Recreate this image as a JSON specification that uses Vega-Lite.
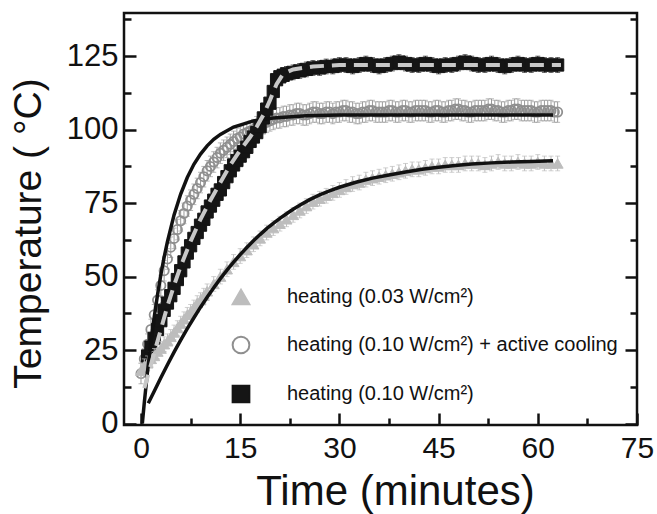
{
  "$schema": "https://vega.github.io/schema/vega-lite/v6.json",
  "width": 513,
  "height": 412,
  "autosize": {"type": "none"},
  "padding": {"left": 124, "top": 13, "right": 20, "bottom": 89},
  "background": "white",
  "config": {
    "view": {"stroke": "#111111", "strokeWidth": 2.5},
    "font": "Liberation Sans",
    "axis": {"grid": false, "domain": false, "labelFont": "Liberation Sans", "titleFont": "Liberation Sans"},
    "legend": {"labelLimit": 0}
  },
  "datasets": {
    "pts": [
      {"s":"circ","t":0,"v":17,"e":3.5},{"s":"circ","t":0.5,"v":22,"e":3.5},{"s":"circ","t":1,"v":27,"e":3.5},{"s":"circ","t":1.5,"v":32,"e":3.5},{"s":"circ","t":2,"v":37,"e":3.5},{"s":"circ","t":2.5,"v":42,"e":3.5},{"s":"circ","t":3,"v":47,"e":3.5},{"s":"circ","t":3.5,"v":52,"e":3.5},{"s":"circ","t":4,"v":56,"e":3.5},{"s":"circ","t":4.5,"v":60,"e":3.5},{"s":"circ","t":5,"v":63,"e":3.5},{"s":"circ","t":5.5,"v":66,"e":3.5},{"s":"circ","t":6,"v":69,"e":3.5},{"s":"circ","t":6.5,"v":71.5,"e":3.5},{"s":"circ","t":7,"v":74,"e":3.5},{"s":"circ","t":7.5,"v":76,"e":3.5},{"s":"circ","t":8,"v":78,"e":3.5},{"s":"circ","t":8.5,"v":80,"e":3.5},{"s":"circ","t":9,"v":82,"e":3.5},{"s":"circ","t":9.5,"v":84,"e":3.5},{"s":"circ","t":10,"v":86,"e":3.5},{"s":"circ","t":10.5,"v":87.5,"e":3.5},{"s":"circ","t":11,"v":89,"e":3.5},{"s":"circ","t":11.5,"v":90.5,"e":3.5},{"s":"circ","t":12,"v":92,"e":3.5},{"s":"circ","t":12.5,"v":93,"e":3.5},{"s":"circ","t":13,"v":94,"e":3.5},{"s":"circ","t":13.5,"v":95,"e":3.5},{"s":"circ","t":14,"v":96,"e":3.5},{"s":"circ","t":14.5,"v":97,"e":3.5},{"s":"circ","t":15,"v":97.5,"e":3.5},{"s":"circ","t":15.5,"v":98.5,"e":3.5},{"s":"circ","t":16,"v":99,"e":3.5},{"s":"circ","t":16.5,"v":99.5,"e":3.5},{"s":"circ","t":17,"v":100,"e":3.5},{"s":"circ","t":17.5,"v":101,"e":3.5},{"s":"circ","t":18,"v":101.5,"e":3.5},{"s":"circ","t":18.5,"v":102,"e":3.5},{"s":"circ","t":19,"v":102.5,"e":3.5},{"s":"circ","t":19.5,"v":103,"e":3.5},{"s":"circ","t":20,"v":103.5,"e":3.5},{"s":"circ","t":20.5,"v":104,"e":3.5},{"s":"circ","t":21,"v":104,"e":3.5},{"s":"circ","t":21.5,"v":104.5,"e":3.5},{"s":"circ","t":22,"v":104.5,"e":3.5},{"s":"circ","t":22.5,"v":105,"e":3.5},{"s":"circ","t":23,"v":105,"e":3.5},{"s":"circ","t":23.5,"v":105.5,"e":3.5},{"s":"circ","t":24,"v":105.5,"e":3.5},{"s":"circ","t":24.5,"v":105,"e":3.5},{"s":"circ","t":25,"v":105,"e":3.5},{"s":"circ","t":25.5,"v":105.5,"e":3.5},{"s":"circ","t":26,"v":106,"e":3.5},{"s":"circ","t":26.5,"v":106,"e":3.5},{"s":"circ","t":27,"v":105.5,"e":3.5},{"s":"circ","t":27.5,"v":105.5,"e":3.5},{"s":"circ","t":28,"v":106,"e":3.5},{"s":"circ","t":28.5,"v":106,"e":3.5},{"s":"circ","t":29,"v":105.5,"e":3.5},{"s":"circ","t":29.5,"v":106,"e":3.5},{"s":"circ","t":30,"v":106,"e":3.5},{"s":"circ","t":30.5,"v":106.5,"e":3.5},{"s":"circ","t":31,"v":106.5,"e":3.5},{"s":"circ","t":31.5,"v":106,"e":3.5},{"s":"circ","t":32,"v":106,"e":3.5},{"s":"circ","t":32.5,"v":105.5,"e":3.5},{"s":"circ","t":33,"v":105.5,"e":3.5},{"s":"circ","t":33.5,"v":106,"e":3.5},{"s":"circ","t":34,"v":106,"e":3.5},{"s":"circ","t":34.5,"v":106.5,"e":3.5},{"s":"circ","t":35,"v":106.5,"e":3.5},{"s":"circ","t":35.5,"v":106,"e":3.5},{"s":"circ","t":36,"v":106,"e":3.5},{"s":"circ","t":36.5,"v":106,"e":3.5},{"s":"circ","t":37,"v":106,"e":3.5},{"s":"circ","t":37.5,"v":106.5,"e":3.5},{"s":"circ","t":38,"v":106.5,"e":3.5},{"s":"circ","t":38.5,"v":106,"e":3.5},{"s":"circ","t":39,"v":106,"e":3.5},{"s":"circ","t":39.5,"v":106.5,"e":3.5},{"s":"circ","t":40,"v":106.5,"e":3.5},{"s":"circ","t":40.5,"v":106,"e":3.5},{"s":"circ","t":41,"v":106,"e":3.5},{"s":"circ","t":41.5,"v":106.5,"e":3.5},{"s":"circ","t":42,"v":106.5,"e":3.5},{"s":"circ","t":42.5,"v":106.5,"e":3.5},{"s":"circ","t":43,"v":106.5,"e":3.5},{"s":"circ","t":43.5,"v":106,"e":3.5},{"s":"circ","t":44,"v":106,"e":3.5},{"s":"circ","t":44.5,"v":106.5,"e":3.5},{"s":"circ","t":45,"v":106.5,"e":3.5},{"s":"circ","t":45.5,"v":106,"e":3.5},{"s":"circ","t":46,"v":106,"e":3.5},{"s":"circ","t":46.5,"v":106.5,"e":3.5},{"s":"circ","t":47,"v":106.5,"e":3.5},{"s":"circ","t":47.5,"v":107,"e":3.5},{"s":"circ","t":48,"v":107,"e":3.5},{"s":"circ","t":48.5,"v":106.5,"e":3.5},{"s":"circ","t":49,"v":106.5,"e":3.5},{"s":"circ","t":49.5,"v":106,"e":3.5},{"s":"circ","t":50,"v":106,"e":3.5},{"s":"circ","t":50.5,"v":106.5,"e":3.5},{"s":"circ","t":51,"v":106.5,"e":3.5},{"s":"circ","t":51.5,"v":106.5,"e":3.5},{"s":"circ","t":52,"v":106.5,"e":3.5},{"s":"circ","t":52.5,"v":107,"e":3.5},{"s":"circ","t":53,"v":107,"e":3.5},{"s":"circ","t":53.5,"v":106.5,"e":3.5},{"s":"circ","t":54,"v":106.5,"e":3.5},{"s":"circ","t":54.5,"v":106,"e":3.5},{"s":"circ","t":55,"v":106,"e":3.5},{"s":"circ","t":55.5,"v":106.5,"e":3.5},{"s":"circ","t":56,"v":106.5,"e":3.5},{"s":"circ","t":56.5,"v":107,"e":3.5},{"s":"circ","t":57,"v":107,"e":3.5},{"s":"circ","t":57.5,"v":106.5,"e":3.5},{"s":"circ","t":58,"v":106.5,"e":3.5},{"s":"circ","t":58.5,"v":106.5,"e":3.5},{"s":"circ","t":59,"v":106.5,"e":3.5},{"s":"circ","t":59.5,"v":106,"e":3.5},{"s":"circ","t":60,"v":106,"e":3.5},{"s":"circ","t":60.5,"v":106.5,"e":3.5},{"s":"circ","t":61,"v":106.5,"e":3.5},{"s":"circ","t":61.5,"v":106.5,"e":3.5},{"s":"circ","t":62,"v":106.5,"e":3.5},{"s":"circ","t":62.5,"v":106,"e":3.5},{"s":"circ","t":63,"v":106,"e":3.5},
      {"s":"sq","t":1,"v":23,"e":2.5},{"s":"sq","t":1.5,"v":26,"e":2.5},{"s":"sq","t":2,"v":29,"e":2.5},{"s":"sq","t":2.5,"v":32,"e":2.5},{"s":"sq","t":3,"v":35,"e":2.5},{"s":"sq","t":3.5,"v":38.5,"e":2.5},{"s":"sq","t":4,"v":41,"e":2.5},{"s":"sq","t":4.5,"v":43.5,"e":2.5},{"s":"sq","t":5,"v":46,"e":2.5},{"s":"sq","t":5.5,"v":49,"e":2.5},{"s":"sq","t":6,"v":52,"e":2.5},{"s":"sq","t":6.5,"v":55,"e":2.5},{"s":"sq","t":7,"v":58,"e":2.5},{"s":"sq","t":7.5,"v":60.5,"e":2.5},{"s":"sq","t":8,"v":63,"e":2.5},{"s":"sq","t":8.5,"v":65,"e":2.5},{"s":"sq","t":9,"v":67.5,"e":2.5},{"s":"sq","t":9.5,"v":69.5,"e":2.5},{"s":"sq","t":10,"v":72,"e":2.5},{"s":"sq","t":10.5,"v":74,"e":2.5},{"s":"sq","t":11,"v":76,"e":2.5},{"s":"sq","t":11.5,"v":78,"e":2.5},{"s":"sq","t":12,"v":79.5,"e":2.5},{"s":"sq","t":12.5,"v":82,"e":2.5},{"s":"sq","t":13,"v":84,"e":2.5},{"s":"sq","t":13.5,"v":86,"e":2.5},{"s":"sq","t":14,"v":88,"e":2.5},{"s":"sq","t":14.5,"v":89.5,"e":2.5},{"s":"sq","t":15,"v":91,"e":2.5},{"s":"sq","t":15.5,"v":92.5,"e":2.5},{"s":"sq","t":16,"v":94,"e":2.5},{"s":"sq","t":16.5,"v":96,"e":2.5},{"s":"sq","t":17,"v":97.5,"e":2.5},{"s":"sq","t":17.5,"v":99,"e":2.5},{"s":"sq","t":18,"v":101,"e":2.5},{"s":"sq","t":18.5,"v":104,"e":2.5},{"s":"sq","t":19,"v":107,"e":2.5},{"s":"sq","t":19.5,"v":109,"e":2.5},{"s":"sq","t":20,"v":113,"e":2.5},{"s":"sq","t":20.5,"v":117,"e":2.5},{"s":"sq","t":21,"v":118,"e":2.5},{"s":"sq","t":21.5,"v":118.5,"e":2.5},{"s":"sq","t":22,"v":119,"e":2.5},{"s":"sq","t":23,"v":119.5,"e":2.5},{"s":"sq","t":24,"v":120,"e":2.5},{"s":"sq","t":25,"v":120.5,"e":2.5},{"s":"sq","t":26,"v":121,"e":2.5},{"s":"sq","t":27,"v":121,"e":2.5},{"s":"sq","t":28,"v":121.5,"e":2.5},{"s":"sq","t":29,"v":121.5,"e":2.5},{"s":"sq","t":30,"v":122,"e":2.5},{"s":"sq","t":31,"v":122,"e":2.5},{"s":"sq","t":32,"v":121.5,"e":2.5},{"s":"sq","t":33,"v":122,"e":2.5},{"s":"sq","t":34,"v":122.5,"e":2.5},{"s":"sq","t":35,"v":122,"e":2.5},{"s":"sq","t":36,"v":121.5,"e":2.5},{"s":"sq","t":37,"v":122,"e":2.5},{"s":"sq","t":38,"v":122.5,"e":2.5},{"s":"sq","t":39,"v":123,"e":2.5},{"s":"sq","t":40,"v":122.5,"e":2.5},{"s":"sq","t":41,"v":122,"e":2.5},{"s":"sq","t":42,"v":122,"e":2.5},{"s":"sq","t":43,"v":122.5,"e":2.5},{"s":"sq","t":44,"v":122,"e":2.5},{"s":"sq","t":45,"v":121.5,"e":2.5},{"s":"sq","t":46,"v":122,"e":2.5},{"s":"sq","t":47,"v":122,"e":2.5},{"s":"sq","t":48,"v":122.5,"e":2.5},{"s":"sq","t":49,"v":123,"e":2.5},{"s":"sq","t":50,"v":122.5,"e":2.5},{"s":"sq","t":51,"v":122,"e":2.5},{"s":"sq","t":52,"v":122,"e":2.5},{"s":"sq","t":53,"v":122.5,"e":2.5},{"s":"sq","t":54,"v":122,"e":2.5},{"s":"sq","t":55,"v":121.5,"e":2.5},{"s":"sq","t":56,"v":122,"e":2.5},{"s":"sq","t":57,"v":122.5,"e":2.5},{"s":"sq","t":58,"v":122,"e":2.5},{"s":"sq","t":59,"v":122,"e":2.5},{"s":"sq","t":60,"v":122.5,"e":2.5},{"s":"sq","t":61,"v":122,"e":2.5},{"s":"sq","t":62,"v":122,"e":2.5},{"s":"sq","t":63,"v":122,"e":2.5},
      {"s":"tri","t":0,"v":18,"e":2.5},{"s":"tri","t":0.5,"v":19.5,"e":2.5},{"s":"tri","t":1,"v":20.5,"e":2.5},{"s":"tri","t":1.5,"v":22,"e":2.5},{"s":"tri","t":2,"v":23,"e":2.5},{"s":"tri","t":2.5,"v":24.5,"e":2.5},{"s":"tri","t":3,"v":25.5,"e":2.5},{"s":"tri","t":3.5,"v":27,"e":2.5},{"s":"tri","t":4,"v":28,"e":2.5},{"s":"tri","t":4.5,"v":29.5,"e":2.5},{"s":"tri","t":5,"v":31,"e":2.5},{"s":"tri","t":5.5,"v":32.5,"e":2.5},{"s":"tri","t":6,"v":34,"e":2.5},{"s":"tri","t":6.5,"v":35.5,"e":2.5},{"s":"tri","t":7,"v":37,"e":2.5},{"s":"tri","t":7.5,"v":38,"e":2.5},{"s":"tri","t":8,"v":39.5,"e":2.5},{"s":"tri","t":8.5,"v":41,"e":2.5},{"s":"tri","t":9,"v":42,"e":2.5},{"s":"tri","t":9.5,"v":43.5,"e":2.5},{"s":"tri","t":10,"v":45,"e":2.5},{"s":"tri","t":11,"v":47.5,"e":2.5},{"s":"tri","t":12,"v":50,"e":2.5},{"s":"tri","t":13,"v":52.5,"e":2.5},{"s":"tri","t":14,"v":55,"e":2.5},{"s":"tri","t":15,"v":57,"e":2.5},{"s":"tri","t":16,"v":59,"e":2.5},{"s":"tri","t":17,"v":61,"e":2.5},{"s":"tri","t":18,"v":63,"e":2.5},{"s":"tri","t":19,"v":65,"e":2.5},{"s":"tri","t":20,"v":66.5,"e":2.5},{"s":"tri","t":21,"v":68,"e":2.5},{"s":"tri","t":22,"v":69.5,"e":2.5},{"s":"tri","t":23,"v":71,"e":2.5},{"s":"tri","t":24,"v":72.5,"e":2.5},{"s":"tri","t":25,"v":74,"e":2.5},{"s":"tri","t":26,"v":75.5,"e":2.5},{"s":"tri","t":27,"v":76.5,"e":2.5},{"s":"tri","t":28,"v":77.5,"e":2.5},{"s":"tri","t":29,"v":78.5,"e":2.5},{"s":"tri","t":30,"v":79.5,"e":2.5},{"s":"tri","t":31,"v":80.5,"e":2.5},{"s":"tri","t":32,"v":81.5,"e":2.5},{"s":"tri","t":33,"v":82,"e":2.5},{"s":"tri","t":34,"v":83,"e":2.5},{"s":"tri","t":35,"v":83.5,"e":2.5},{"s":"tri","t":36,"v":84,"e":2.5},{"s":"tri","t":37,"v":84.5,"e":2.5},{"s":"tri","t":38,"v":85,"e":2.5},{"s":"tri","t":39,"v":85.5,"e":2.5},{"s":"tri","t":40,"v":86,"e":2.5},{"s":"tri","t":41,"v":86.5,"e":2.5},{"s":"tri","t":42,"v":86.5,"e":2.5},{"s":"tri","t":43,"v":87,"e":2.5},{"s":"tri","t":44,"v":87.5,"e":2.5},{"s":"tri","t":45,"v":87.5,"e":2.5},{"s":"tri","t":46,"v":88,"e":2.5},{"s":"tri","t":47,"v":88,"e":2.5},{"s":"tri","t":48,"v":88,"e":2.5},{"s":"tri","t":49,"v":88.5,"e":2.5},{"s":"tri","t":50,"v":88.5,"e":2.5},{"s":"tri","t":51,"v":88.5,"e":2.5},{"s":"tri","t":52,"v":88,"e":2.5},{"s":"tri","t":53,"v":88.5,"e":2.5},{"s":"tri","t":54,"v":89,"e":2.5},{"s":"tri","t":55,"v":88.5,"e":2.5},{"s":"tri","t":56,"v":88.5,"e":2.5},{"s":"tri","t":57,"v":89,"e":2.5},{"s":"tri","t":58,"v":88.5,"e":2.5},{"s":"tri","t":59,"v":88.5,"e":2.5},{"s":"tri","t":60,"v":89,"e":2.5},{"s":"tri","t":61,"v":88.5,"e":2.5},{"s":"tri","t":62,"v":88.5,"e":2.5},{"s":"tri","t":63,"v":88.5,"e":2.5}
    ],
    "fit": [
      {"s":"circ","t":0.2,"v":0},{"s":"circ","t":0.5,"v":7.1},{"s":"circ","t":1,"v":18},{"s":"circ","t":1.5,"v":27.6},{"s":"circ","t":2,"v":36.2},{"s":"circ","t":2.5,"v":43.8},{"s":"circ","t":3,"v":50.6},{"s":"circ","t":3.5,"v":56.6},{"s":"circ","t":4,"v":61.9},{"s":"circ","t":5,"v":71},{"s":"circ","t":6,"v":78.1},{"s":"circ","t":7,"v":83.7},{"s":"circ","t":8,"v":88.2},{"s":"circ","t":9,"v":91.7},{"s":"circ","t":10,"v":94.5},{"s":"circ","t":11,"v":96.7},{"s":"circ","t":12,"v":98.4},{"s":"circ","t":14,"v":100.9},{"s":"circ","t":17,"v":103},{"s":"circ","t":20,"v":104},{"s":"circ","t":25,"v":104.7},{"s":"circ","t":30,"v":105},{"s":"circ","t":62.3,"v":105},
      {"s":"tri","t":1.1,"v":6.9},{"s":"tri","t":2,"v":11},{"s":"tri","t":3,"v":15.6},{"s":"tri","t":4,"v":20},{"s":"tri","t":5,"v":24.3},{"s":"tri","t":6,"v":28.4},{"s":"tri","t":7,"v":32.3},{"s":"tri","t":8,"v":36},{"s":"tri","t":9,"v":39.6},{"s":"tri","t":10,"v":43},{"s":"tri","t":11,"v":46.2},{"s":"tri","t":12,"v":49.3},{"s":"tri","t":13,"v":52.2},{"s":"tri","t":14,"v":54.9},{"s":"tri","t":15,"v":57.5},{"s":"tri","t":16,"v":59.9},{"s":"tri","t":17,"v":62.2},{"s":"tri","t":18,"v":64.3},{"s":"tri","t":19,"v":66.3},{"s":"tri","t":20,"v":68.1},{"s":"tri","t":21,"v":69.8},{"s":"tri","t":22,"v":71.4},{"s":"tri","t":23,"v":72.9},{"s":"tri","t":24,"v":74.3},{"s":"tri","t":25.5,"v":76.2},{"s":"tri","t":27,"v":77.8},{"s":"tri","t":28.5,"v":79.2},{"s":"tri","t":30,"v":80.4},{"s":"tri","t":32.5,"v":82.1},{"s":"tri","t":35,"v":83.5},{"s":"tri","t":37.5,"v":84.6},{"s":"tri","t":40,"v":85.6},{"s":"tri","t":42.5,"v":86.5},{"s":"tri","t":45,"v":87.2},{"s":"tri","t":47.5,"v":87.8},{"s":"tri","t":50,"v":88.3},{"s":"tri","t":53,"v":88.7},{"s":"tri","t":56,"v":89},{"s":"tri","t":59,"v":89.2},{"s":"tri","t":62.3,"v":89.4},
      {"s":"sq","t":0.5,"v":12},{"s":"sq","t":1,"v":16},{"s":"sq","t":2,"v":24},{"s":"sq","t":3,"v":32},{"s":"sq","t":4,"v":40},{"s":"sq","t":5,"v":47},{"s":"sq","t":6,"v":53.5},{"s":"sq","t":7.5,"v":62},{"s":"sq","t":9,"v":69.5},{"s":"sq","t":10.5,"v":76},{"s":"sq","t":12,"v":82},{"s":"sq","t":13.5,"v":88},{"s":"sq","t":15,"v":93},{"s":"sq","t":16.5,"v":97.5},{"s":"sq","t":17.5,"v":101},{"s":"sq","t":18.5,"v":105},{"s":"sq","t":19.5,"v":110},{"s":"sq","t":20.5,"v":115.5},{"s":"sq","t":21.5,"v":119},{"s":"sq","t":23,"v":120.5},{"s":"sq","t":26,"v":121.5},{"s":"sq","t":30,"v":122},{"s":"sq","t":63.5,"v":122}
    ]
  },
  "resolve": {"axis": {"x": "independent", "y": "independent"}},
  "layer": [
    {
      "data": {"name": "pts"},
      "transform": [{"filter": "datum.s == 'circ'"}],
      "mark": {"type": "errorbar", "ticks": true, "color": "#9a9a9a"},
      "encoding": {
        "x": {"field": "t", "type": "quantitative", "scale": {"domain": [-2.57, 75], "nice": false, "zero": false}, "axis": null},
        "y": {"field": "v", "type": "quantitative", "scale": {"domain": [-0.5, 139.7], "nice": false, "zero": false}, "axis": null},
        "yError": {"field": "e"}
      }
    },
    {
      "data": {"name": "pts"},
      "transform": [{"filter": "datum.s == 'circ'"}],
      "mark": {"type": "point", "size": 85, "strokeWidth": 1.8, "opacity": 1},
      "encoding": {
        "x": {"field": "t", "type": "quantitative", "scale": {"domain": [-2.57, 75], "nice": false, "zero": false},
          "axis": {"orient": "bottom", "values": [0, 15, 30, 45, 60, 75], "ticks": false, "labelFontSize": 30, "labelPadding": 8, "labelColor": "#111111", "labelFlush": false, "title": "Time (minutes)", "titleFontSize": 42, "titleFontWeight": "normal", "titleColor": "#111111", "titleX": 271, "titleY": 79, "titleBaseline": "alphabetic"}},
        "y": {"field": "v", "type": "quantitative", "scale": {"domain": [-0.5, 139.7], "nice": false, "zero": false},
          "axis": {"orient": "left", "values": [0, 25, 50, 75, 100, 125], "ticks": false, "labelFontSize": 31, "labelPadding": 6, "labelColor": "#111111", "labelFlush": false, "title": "Temperature ( °C)", "titleFontSize": 39, "titleFontWeight": "normal", "titleColor": "#111111", "titleX": -84, "titleY": 220, "titleAngle": -90, "titleBaseline": "alphabetic"}},
        "shape": {"field": "s", "type": "nominal", "scale": {"domain": ["tri", "circ", "sq"], "range": ["triangle-up", "circle", "square"]},
          "legend": {"title": null, "orient": "none", "legendX": 107, "legendY": 274, "symbolSize": 280, "symbolStrokeWidth": 2, "labelFontSize": 20, "labelColor": "#111111", "labelOffset": 36, "rowPadding": 23, "labelLimit": 0,
            "labelExpr": "datum.label == 'tri' ? 'heating (0.03 W/cm²)' : datum.label == 'circ' ? 'heating (0.10 W/cm²) + active cooling' : 'heating (0.10 W/cm²)'"}},
        "fill": {"field": "s", "type": "nominal", "scale": {"domain": ["tri", "circ", "sq"], "range": ["#bdbdbd", "transparent", "#151515"]},
          "legend": {"title": null, "orient": "none", "legendX": 107, "legendY": 274, "symbolSize": 280, "symbolStrokeWidth": 2, "labelFontSize": 20, "labelColor": "#111111", "labelOffset": 36, "rowPadding": 23, "labelLimit": 0,
            "labelExpr": "datum.label == 'tri' ? 'heating (0.03 W/cm²)' : datum.label == 'circ' ? 'heating (0.10 W/cm²) + active cooling' : 'heating (0.10 W/cm²)'"}},
        "stroke": {"field": "s", "type": "nominal", "scale": {"domain": ["tri", "circ", "sq"], "range": ["#bdbdbd", "#8f8f8f", "#151515"]},
          "legend": {"title": null, "orient": "none", "legendX": 107, "legendY": 274, "symbolSize": 280, "symbolStrokeWidth": 2, "labelFontSize": 20, "labelColor": "#111111", "labelOffset": 36, "rowPadding": 23, "labelLimit": 0,
            "labelExpr": "datum.label == 'tri' ? 'heating (0.03 W/cm²)' : datum.label == 'circ' ? 'heating (0.10 W/cm²) + active cooling' : 'heating (0.10 W/cm²)'"}}
      }
    },
    {
      "data": {"name": "pts"},
      "transform": [{"filter": "datum.s == 'sq'"}],
      "mark": {"type": "errorbar", "ticks": true, "color": "#151515"},
      "encoding": {
        "x": {"field": "t", "type": "quantitative", "scale": {"domain": [-2.57, 75], "nice": false, "zero": false}, "axis": null},
        "y": {"field": "v", "type": "quantitative", "scale": {"domain": [-0.5, 139.7], "nice": false, "zero": false}, "axis": null},
        "yError": {"field": "e"}
      }
    },
    {
      "data": {"name": "pts"},
      "transform": [{"filter": "datum.s == 'sq'"}],
      "mark": {"type": "point", "size": 150, "strokeWidth": 1, "opacity": 1},
      "encoding": {
        "x": {"field": "t", "type": "quantitative", "scale": {"domain": [-2.57, 75], "nice": false, "zero": false},
          "axis": {"orient": "bottom", "values": [0, 15, 30, 45, 60, 75], "labels": false, "ticks": true, "tickSize": -12, "tickWidth": 2.5, "tickColor": "#111111", "title": null, "zindex": 2}},
        "y": {"field": "v", "type": "quantitative", "scale": {"domain": [-0.5, 139.7], "nice": false, "zero": false},
          "axis": {"orient": "left", "values": [0, 25, 50, 75, 100, 125], "labels": false, "ticks": true, "tickSize": -12, "tickWidth": 2.5, "tickColor": "#111111", "title": null, "zindex": 2}},
        "shape": {"field": "s", "type": "nominal", "scale": {"domain": ["tri", "circ", "sq"], "range": ["triangle-up", "circle", "square"]}},
        "fill": {"field": "s", "type": "nominal", "scale": {"domain": ["tri", "circ", "sq"], "range": ["#bdbdbd", "transparent", "#151515"]}},
        "stroke": {"field": "s", "type": "nominal", "scale": {"domain": ["tri", "circ", "sq"], "range": ["#bdbdbd", "#8f8f8f", "#151515"]}}
      }
    },
    {
      "data": {"name": "pts"},
      "transform": [{"filter": "datum.s == 'tri'"}],
      "mark": {"type": "errorbar", "ticks": true, "color": "#bdbdbd"},
      "encoding": {
        "x": {"field": "t", "type": "quantitative", "scale": {"domain": [-2.57, 75], "nice": false, "zero": false}, "axis": null},
        "y": {"field": "v", "type": "quantitative", "scale": {"domain": [-0.5, 139.7], "nice": false, "zero": false}, "axis": null},
        "yError": {"field": "e"}
      }
    },
    {
      "data": {"name": "pts"},
      "transform": [{"filter": "datum.s == 'tri'"}],
      "mark": {"type": "point", "size": 120, "strokeWidth": 1, "opacity": 1},
      "encoding": {
        "x": {"field": "t", "type": "quantitative", "scale": {"domain": [-2.57, 75], "nice": false, "zero": false},
          "axis": {"orient": "bottom", "values": [7.5, 22.5, 37.5, 52.5, 67.5], "labels": false, "ticks": true, "tickSize": -7, "tickWidth": 2.5, "tickColor": "#111111", "title": null, "zindex": 2}},
        "y": {"field": "v", "type": "quantitative", "scale": {"domain": [-0.5, 139.7], "nice": false, "zero": false},
          "axis": {"orient": "left", "values": [12.5, 37.5, 62.5, 87.5, 112.5, 137.5], "labels": false, "ticks": true, "tickSize": -7, "tickWidth": 2.5, "tickColor": "#111111", "title": null, "zindex": 2}},
        "shape": {"field": "s", "type": "nominal", "scale": {"domain": ["tri", "circ", "sq"], "range": ["triangle-up", "circle", "square"]}},
        "fill": {"field": "s", "type": "nominal", "scale": {"domain": ["tri", "circ", "sq"], "range": ["#bdbdbd", "transparent", "#151515"]}},
        "stroke": {"field": "s", "type": "nominal", "scale": {"domain": ["tri", "circ", "sq"], "range": ["#bdbdbd", "#8f8f8f", "#151515"]}}
      }
    },
    {
      "data": {"name": "fit"},
      "transform": [{"filter": "datum.s == 'circ'"}],
      "mark": {"type": "line", "color": "#111111", "strokeWidth": 3.5},
      "encoding": {
        "x": {"field": "t", "type": "quantitative", "scale": {"domain": [-2.57, 75], "nice": false, "zero": false}, "axis": null},
        "y": {"field": "v", "type": "quantitative", "scale": {"domain": [-0.5, 139.7], "nice": false, "zero": false},
          "axis": {"orient": "right", "values": [0, 25, 50, 75, 100, 125], "labels": false, "ticks": true, "tickSize": -12, "tickWidth": 2.5, "tickColor": "#111111", "title": null, "zindex": 2}}
      }
    },
    {
      "data": {"name": "fit"},
      "transform": [{"filter": "datum.s == 'tri'"}],
      "mark": {"type": "line", "color": "#111111", "strokeWidth": 3.5},
      "encoding": {
        "x": {"field": "t", "type": "quantitative", "scale": {"domain": [-2.57, 75], "nice": false, "zero": false}, "axis": null},
        "y": {"field": "v", "type": "quantitative", "scale": {"domain": [-0.5, 139.7], "nice": false, "zero": false},
          "axis": {"orient": "right", "values": [12.5, 37.5, 62.5, 87.5, 112.5, 137.5], "labels": false, "ticks": true, "tickSize": -7, "tickWidth": 2.5, "tickColor": "#111111", "title": null, "zindex": 2}}
      }
    },
    {
      "data": {"name": "fit"},
      "transform": [{"filter": "datum.s == 'sq'"}],
      "mark": {"type": "line", "color": "#c8c8c8", "strokeWidth": 4, "strokeDash": [14, 8]},
      "encoding": {
        "x": {"field": "t", "type": "quantitative", "scale": {"domain": [-2.57, 75], "nice": false, "zero": false}, "axis": null},
        "y": {"field": "v", "type": "quantitative", "scale": {"domain": [-0.5, 139.7], "nice": false, "zero": false}, "axis": null}
      }
    }
  ]
}
